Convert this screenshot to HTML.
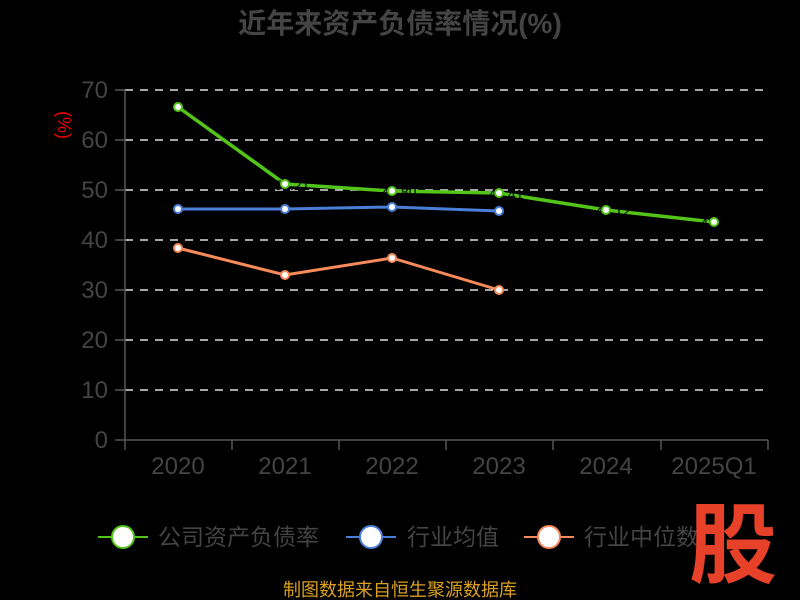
<!DOCTYPE html>
<html><head><meta charset="utf-8"><style>
body{margin:0;background:#000;width:800px;height:600px;overflow:hidden}
svg{display:block}
text{font-family:"Liberation Sans","Noto Sans CJK SC",sans-serif}
</style></head><body>
<svg width="800" height="600" viewBox="0 0 800 600">
<rect width="800" height="600" fill="#000"/>
<text x="400" y="33" text-anchor="middle" font-size="28" font-weight="bold" fill="#444">近年来资产负债率情况(%)</text>
<g stroke="#ddd" stroke-width="1.5" stroke-dasharray="8,7">
<line x1="125" y1="90" x2="768" y2="90"/><line x1="125" y1="140" x2="768" y2="140"/>
<line x1="125" y1="190" x2="768" y2="190"/><line x1="125" y1="240" x2="768" y2="240"/>
<line x1="125" y1="290" x2="768" y2="290"/><line x1="125" y1="340" x2="768" y2="340"/>
<line x1="125" y1="390" x2="768" y2="390"/>
</g>
<g stroke="#555" stroke-width="1.5">
<line x1="125" y1="90" x2="125" y2="440"/><line x1="125" y1="440" x2="768" y2="440"/>
<line x1="115" y1="90" x2="125" y2="90"/><line x1="115" y1="140" x2="125" y2="140"/><line x1="115" y1="190" x2="125" y2="190"/><line x1="115" y1="240" x2="125" y2="240"/><line x1="115" y1="290" x2="125" y2="290"/><line x1="115" y1="340" x2="125" y2="340"/><line x1="115" y1="390" x2="125" y2="390"/><line x1="115" y1="440" x2="125" y2="440"/>
<line x1="125" y1="440" x2="125" y2="450"/><line x1="232" y1="440" x2="232" y2="450"/><line x1="339" y1="440" x2="339" y2="450"/><line x1="446" y1="440" x2="446" y2="450"/><line x1="553" y1="440" x2="553" y2="450"/><line x1="661" y1="440" x2="661" y2="450"/><line x1="768" y1="440" x2="768" y2="450"/>
</g>
<g font-size="24" fill="#444" text-anchor="end">
<text x="108" y="98">70</text><text x="108" y="148">60</text><text x="108" y="198">50</text><text x="108" y="248">40</text><text x="108" y="298">30</text><text x="108" y="348">20</text><text x="108" y="398">10</text><text x="108" y="448">0</text>
</g>
<g font-size="24" fill="#444" text-anchor="middle">
<text x="178" y="474">2020</text><text x="285" y="474">2021</text><text x="392" y="474">2022</text><text x="499" y="474">2023</text><text x="606" y="474">2024</text><text x="714" y="474">2025Q1</text>
</g>
<text transform="translate(58,125) rotate(90)" text-anchor="middle" font-size="18" fill="#e00">(%)</text>
<polyline points="178,248 285,275 392,258 499,290" fill="none" stroke="#f98a5a" stroke-width="3"/>
<polyline points="178,209 285,209 392,207 499,211" fill="none" stroke="#4a7fd8" stroke-width="3"/>
<polyline points="178,107 285,184 392,191 499,193 606,210 714,222" fill="none" stroke="#52c41a" stroke-width="3.5"/>
<g font-size="14" fill="#000" text-anchor="middle">
<text x="292" y="190">51.21</text><text x="399" y="197">49.80</text><text x="506" y="199">49.41</text><text x="613" y="216">46.12</text><text x="714" y="228">43.6</text>
</g>
<g fill="#fff" stroke-width="2">
<g stroke="#f98a5a"><circle cx="178" cy="248" r="4"/><circle cx="285" cy="275" r="4"/><circle cx="392" cy="258" r="4"/><circle cx="499" cy="290" r="4"/></g>
<g stroke="#4a7fd8"><circle cx="178" cy="209" r="4"/><circle cx="285" cy="209" r="4"/><circle cx="392" cy="207" r="4"/><circle cx="499" cy="211" r="4"/></g>
<g stroke="#52c41a"><circle cx="178" cy="107" r="4"/><circle cx="285" cy="184" r="4"/><circle cx="392" cy="191" r="4"/><circle cx="499" cy="193" r="4"/><circle cx="606" cy="210" r="4"/><circle cx="714" cy="222" r="4"/></g>
</g>
<g font-size="23" fill="#444">
<line x1="98" y1="537" x2="148" y2="537" stroke="#52c41a" stroke-width="2"/><circle cx="123" cy="537" r="11" fill="#fff" stroke="#52c41a" stroke-width="2"/>
<text x="158" y="545">公司资产负债率</text>
<line x1="346" y1="537" x2="396" y2="537" stroke="#4a7fd8" stroke-width="2"/><circle cx="371" cy="537" r="11" fill="#fff" stroke="#4a7fd8" stroke-width="2"/>
<text x="407" y="545">行业均值</text>
<line x1="524" y1="537" x2="574" y2="537" stroke="#f98a5a" stroke-width="2"/><circle cx="549" cy="537" r="11" fill="#fff" stroke="#f98a5a" stroke-width="2"/>
<text x="584" y="545">行业中位数</text>
</g>
<text x="733" y="576" text-anchor="middle" font-size="88" font-weight="bold" fill="#e8412a" font-family="'Noto Sans CJK SC',sans-serif" transform="translate(733,545) scale(1,1) translate(-733,-545)">股</text>
<text x="400" y="596" text-anchor="middle" font-size="18" fill="#d9a020">制图数据来自恒生聚源数据库</text>
</svg>
</body></html>
